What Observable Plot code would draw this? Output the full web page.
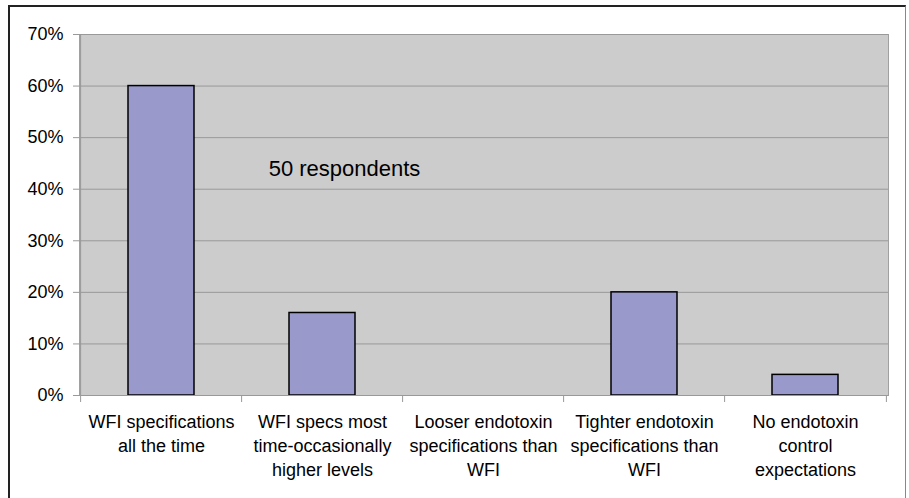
<!DOCTYPE html>
<html><head><meta charset="utf-8">
<script src="https://cdn.jsdelivr.net/npm/d3@7"></script>
<script src="https://cdn.jsdelivr.net/npm/@observablehq/plot@0.6"></script>
<style>
html,body{margin:0;padding:0;background:#fff;}
#wrap{position:relative;width:909px;height:498px;overflow:hidden;}
#border{position:absolute;left:8px;top:5px;width:898px;height:520px;border-left:2px solid #222;border-top:2px solid #222;border-right:1px solid #888;box-sizing:border-box;pointer-events:none;}
</style></head>
<body><div id="wrap"><div id="border"></div></div>
<script>
const categories = [
  "WFI specifications all the time",
  "WFI specs most time-occasionally higher levels",
  "Looser endotoxin specifications than WFI",
  "Tighter endotoxin specifications than WFI",
  "No endotoxin control expectations"
];
const labelLines = [
  "WFI specifications\nall the time",
  "WFI specs most\ntime-occasionally\nhigher levels",
  "Looser endotoxin\nspecifications than\nWFI",
  "Tighter endotoxin\nspecifications than\nWFI",
  "No endotoxin\ncontrol\nexpectations"
];
const values = [0.60, 0.16, 0.00, 0.20, 0.04];
const yTicks = [0, 0.1, 0.2, 0.3, 0.4, 0.5, 0.6, 0.7];
const note = "50 respondents";

const data = categories.map((c, i) => ({category: c, value: values[i], label: labelLines[i]}));
const labelOf = new Map(data.map(d => [d.category, d.label]));

const font = "'Liberation Sans', Arial, sans-serif";
const chart = Plot.plot({
  width: 909,
  height: 498,
  marginLeft: 79,
  marginTop: 34,
  marginRight: 21,
  marginBottom: 103,
  style: {fontFamily: font, fontSize: "18px", color: "#000", background: "transparent"},
  x: {domain: categories, paddingInner: 0.59, paddingOuter: 0.295, label: null},
  y: {domain: [0, 0.7], label: null},
  marks: [
    Plot.frame({fill: "#cccccc", stroke: "#a0a0a0"}),
    Plot.gridY(yTicks, {stroke: "#999", strokeOpacity: 1}),
    Plot.rectY(data.filter(d => d.value > 0), {x: "category", y: "value", fill: "#9999cc", stroke: "#000", strokeWidth: 1.5}),
    Plot.axisY(yTicks, {tickFormat: d3.format(".0%"), tickSize: 6, tickPadding: 10, stroke: "#999", fontSize: 18, label: null}),
    Plot.axisX({tickSize: 0, tickPadding: 15, tickFormat: d => labelOf.get(d), lineHeight: 1.333, fontSize: 18, label: null}),
    Plot.ruleX(categories, {x: d => d, y1: 0, y2: -0.0136, dx: -80.9, stroke: "#999"}),
    Plot.ruleX([categories[categories.length - 1]], {x: d => d, y1: 0, y2: -0.0136, dx: 80.9, stroke: "#999"}),
    Plot.ruleY([0], {stroke: "#999"}),
    Plot.ruleX([categories[0]], {x: d => d, y1: 0, y2: 0.7, dx: -80.9, stroke: "#999"}),
    Plot.text([note], {x: () => categories[1], y: 0.44, text: d => d, fontSize: 22, dx: 22, fill: "#000"})
  ]
});
document.getElementById("wrap").appendChild(chart);
chart.style.position = "absolute";
chart.style.left = "0";
chart.style.top = "0";
</script>
</body></html>
